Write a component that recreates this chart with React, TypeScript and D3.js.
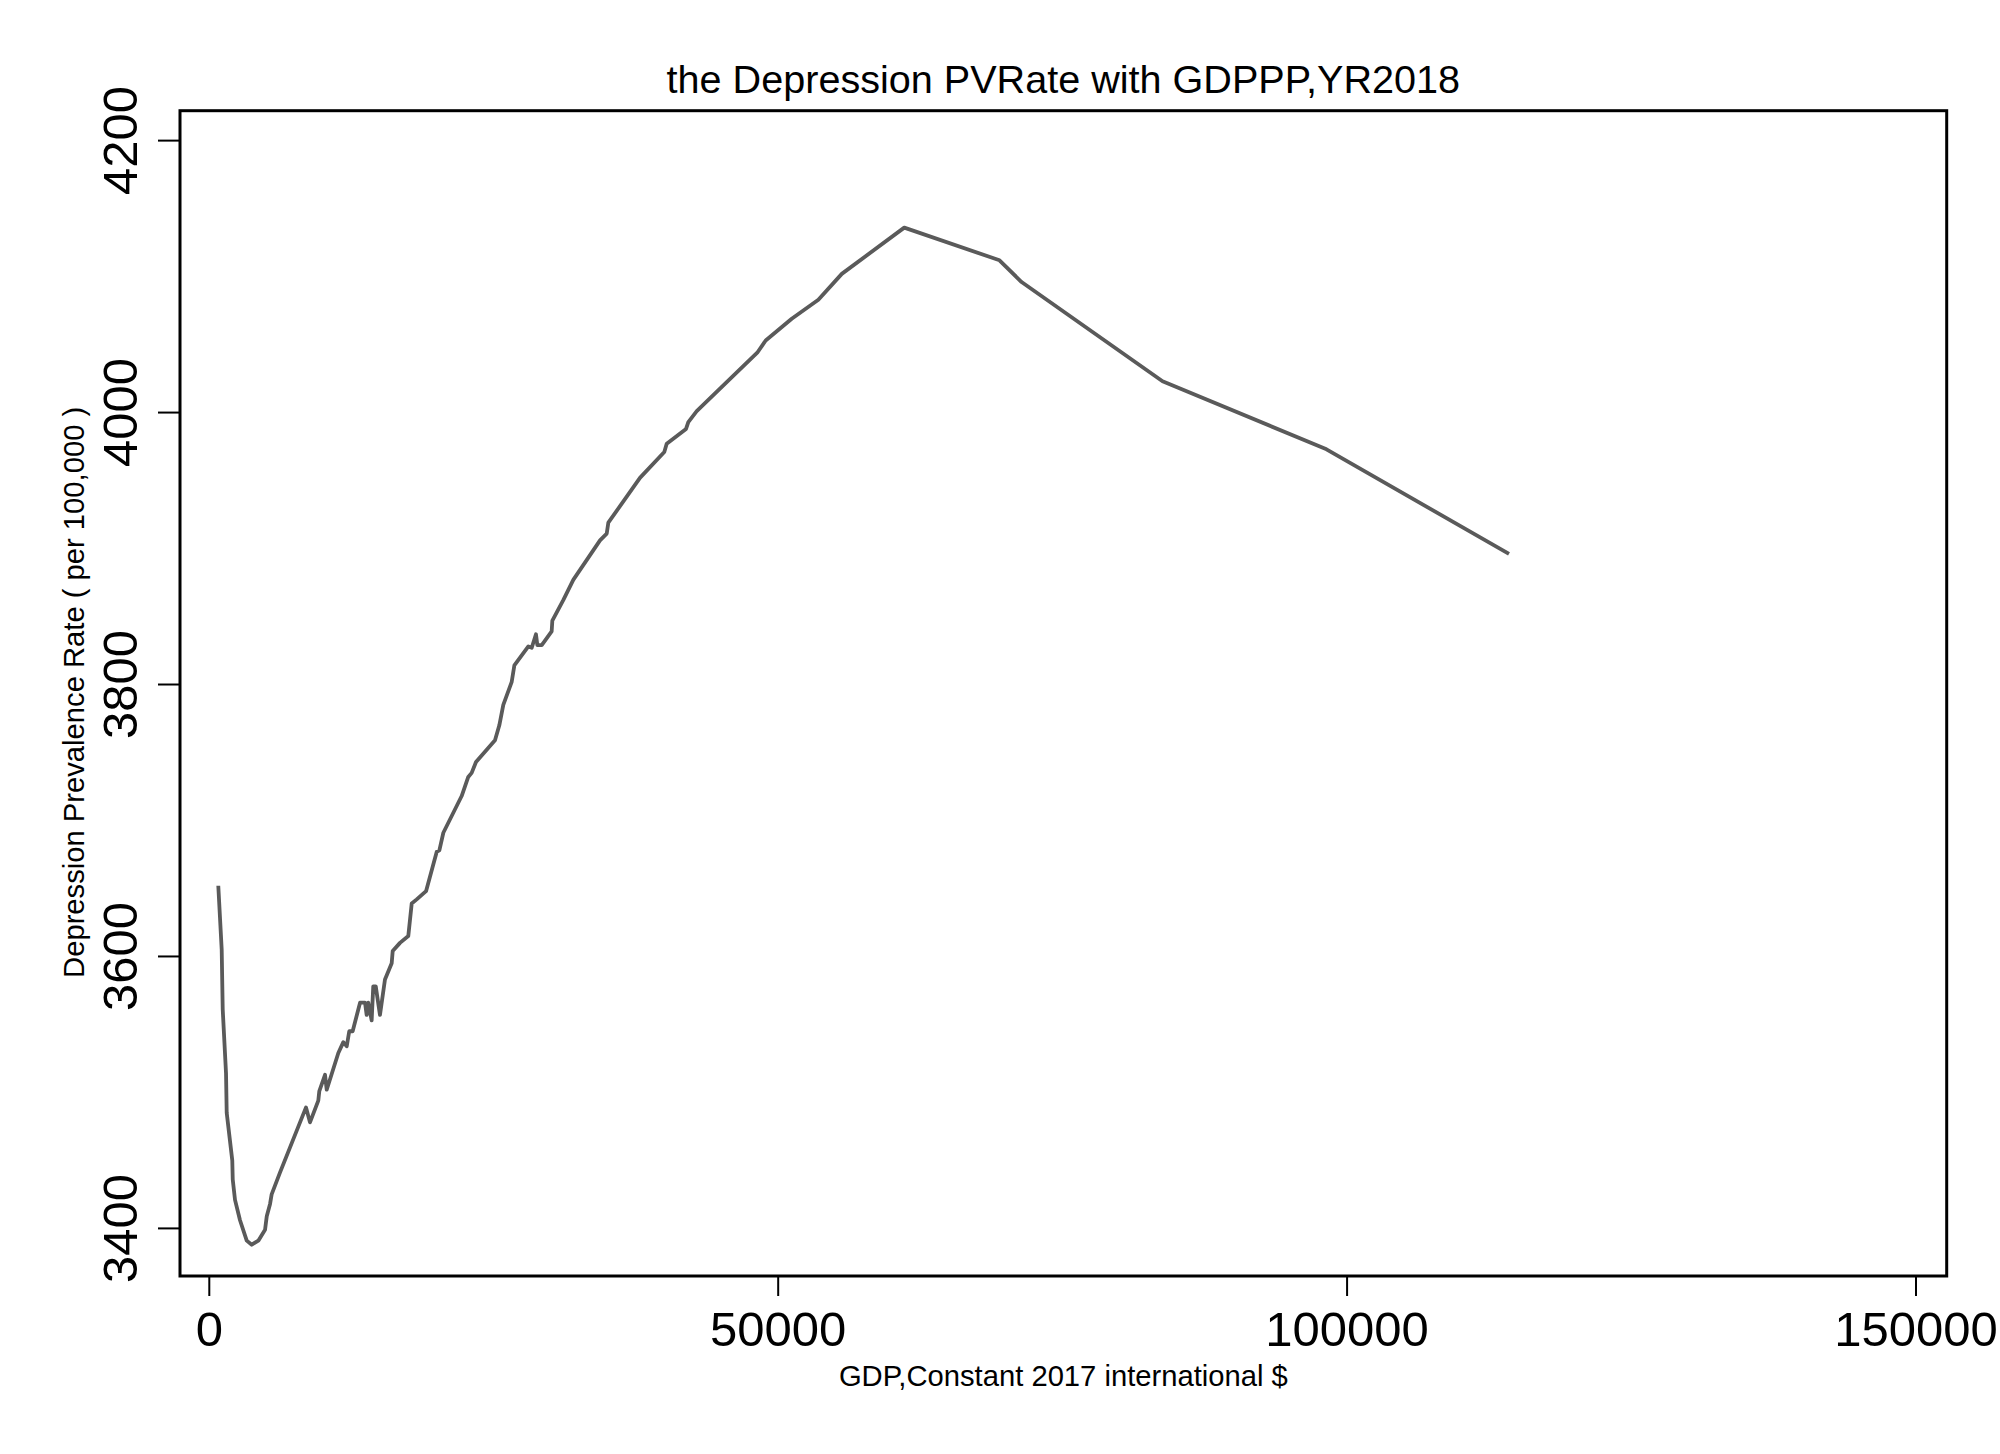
import React from "react";
import * as d3 from "d3";

const gdp = [790, 1090, 1180, 1470, 1530, 2020, 2060, 2260, 2700, 3290, 3730, 4310, 4900, 5050, 5340, 5480, 6210, 8500, 8850, 9580, 9670, 10170, 10320, 11340, 11780, 12080, 12300, 12600, 13250, 13690, 13830, 13970, 14270, 14410, 14630, 15000, 15440, 16030, 16120, 16760, 17490, 17790, 18230, 19050, 19990, 20220, 20570, 22180, 22760, 23060, 23440, 25110, 25490, 25840, 26580, 26810, 28040, 28340, 28710, 28830, 29220, 30090, 30150, 31110, 31990, 34340, 34930, 35070, 37850, 39990, 40200, 41900, 42100, 42840, 45180, 48160, 48900, 51190, 53530, 55590, 61080, 69450, 71390, 83780, 98190, 114230];
const rate = [3652, 3605, 3561, 3514, 3485, 3450, 3436, 3421, 3406, 3391, 3388, 3391, 3399, 3409, 3418, 3425, 3441, 3489, 3478, 3494, 3501, 3513, 3502, 3529, 3537, 3534, 3545, 3545, 3566, 3566, 3557, 3566, 3553, 3578, 3578, 3557, 3583, 3595, 3604, 3610, 3615, 3639, 3642, 3648, 3677, 3678, 3691, 3718, 3732, 3735, 3743, 3759, 3770, 3785, 3802, 3814, 3828, 3827, 3837, 3829, 3829, 3839, 3847, 3862, 3877, 3906, 3911, 3919, 3952, 3971, 3977, 3988, 3993, 4001, 4020, 4044, 4053, 4069, 4083, 4102, 4136, 4112, 4096, 4023, 3973, 3896];

const xTicks = [0, 50000, 100000, 150000];
const yTicks = [3400, 3600, 3800, 4000, 4200];

const title = "the Depression PVRate with GDPPP,YR2018";
const xTitle = "GDP,Constant 2017 international $";
const yTitle = "Depression Prevalence Rate ( per 100,000 )";

const W = 2000;
const H = 1454;
const L = 180, R = 1946.7, T = 110.7, B = 1276;
const FONT = "'Liberation Sans', Arial, Helvetica, sans-serif";

export default function App() {
  const x = d3.scaleLinear().domain([-2575, 152700]).range([L, R]);
  const y = d3.scaleLinear().domain([3365, 4222]).range([B, T]);
  const pts = gdp.map((g, i) => [g, rate[i]] as [number, number]);
  const line = d3.line<[number, number]>().x(d => x(d[0])).y(d => y(d[1]));

  return (
    <svg width={W} height={H} style={{ position: "absolute", left: 0, top: 0, background: "#fff" }} fontFamily={FONT}>
      <rect x={0} y={0} width={W} height={H} fill="#fff" />
      <text x={(L + R) / 2} y={93} textAnchor="middle" fontSize={39.6} fill="#000">{title}</text>
      <path d={line(pts) || ""} fill="none" stroke="#5a5a5a" strokeWidth={3.8} strokeLinejoin="round" />
      <rect x={L} y={T} width={R - L} height={B - T} fill="none" stroke="#000" strokeWidth={3} />
      {yTicks.map(t => (
        <g key={"y" + t}>
          <line x1={L - 22} x2={L} y1={y(t)} y2={y(t)} stroke="#000" strokeWidth={2} />
          <text transform={`translate(137,${y(t)}) rotate(-90)`} textAnchor="middle" fontSize={49} fill="#000">{t}</text>
        </g>
      ))}
      {xTicks.map(t => (
        <g key={"x" + t}>
          <line x1={x(t)} x2={x(t)} y1={B} y2={B + 20} stroke="#000" strokeWidth={2} />
          <text x={x(t)} y={1346} textAnchor="middle" fontSize={49} fill="#000">{t}</text>
        </g>
      ))}
      <text x={(L + R) / 2} y={1386} textAnchor="middle" fontSize={29.2} fill="#000">{xTitle}</text>
      <text transform={`translate(84,${(T + B) / 2 - 1}) rotate(-90)`} textAnchor="middle" fontSize={29.2} fill="#000">{yTitle}</text>
    </svg>
  );
}
